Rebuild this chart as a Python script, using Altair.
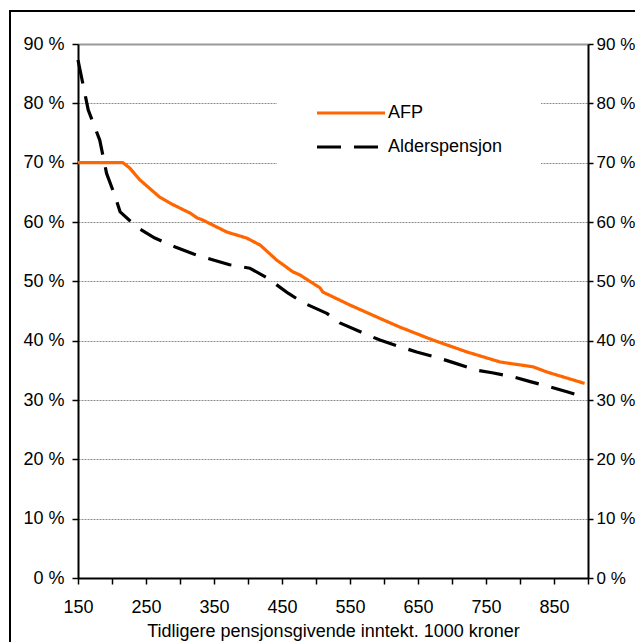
import altair as alt
import pandas as pd

# AFP series (income in 1000 NOK, replacement rate %)
afp_x = [150, 200, 216, 226, 241, 270, 290, 315, 325, 334, 369, 398, 418, 442,
         466, 476, 506, 510, 550, 599, 623, 672, 722, 771, 819, 840, 895]
afp_y = [70.0, 70.0, 70.0, 69.1, 67.1, 64.2, 62.9, 61.5, 60.7, 60.3, 58.3, 57.3, 56.1, 53.6,
         51.6, 51.1, 48.9, 48.2, 46.0, 43.5, 42.3, 40.1, 38.1, 36.4, 35.6, 34.7, 32.8]

# Alderspensjon series
ald_x = [150, 165, 182, 192, 204, 212, 238, 263, 293, 320, 349, 373, 403, 428,
         459, 481, 516, 535, 569, 594, 623, 648, 680, 702, 737, 759, 790, 815,
         844, 869, 895]
ald_y = [87.3, 78.9, 73.8, 68.2, 64.5, 61.7, 59.0, 57.3, 55.8, 54.6, 53.6, 52.8, 52.2, 50.6,
         48.0, 46.4, 44.6, 43.0, 41.3, 40.1, 39.0, 38.1, 37.1, 36.3, 35.0, 34.6, 33.9, 33.1,
         32.2, 31.4, 30.5]

series_names = ["AFP", "Alderspensjon"]
series_colors = ["#FF6600", "#000000"]
series_dash = [[1, 0], [24, 13]]

x_ticks = list(range(150, 901, 50))
y_ticks = list(range(0, 91, 10))

x_title = "Tidligere pensjonsgivende inntekt. 1000 kroner"

df = pd.concat([
    pd.DataFrame({"x": afp_x, "y": afp_y, "serie": series_names[0], "o": range(len(afp_x))}),
    pd.DataFrame({"x": ald_x, "y": ald_y, "serie": series_names[1], "o": range(len(ald_x))}),
])

FONT = "Liberation Sans"
FS = 18

W, H = 510, 534

x_enc = alt.X(
    "x:Q",
    scale=alt.Scale(domain=[150, 900], nice=False, zero=False),
    axis=alt.Axis(
        values=x_ticks,
        labelExpr="(datum.value - 150) % 100 == 0 && datum.value < 900 ? datum.label : ''",
        title=x_title,
        grid=False,
        domainColor="black",
        domainWidth=2,
        tickColor="black",
        tickWidth=1.5,
        tickSize=6,
        labelPadding=14,
        titlePadding=6,
        labelFlush=False,
    ),
)

y_left = alt.Y(
    "y:Q",
    scale=alt.Scale(domain=[0, 90], nice=False),
    axis=alt.Axis(
        values=y_ticks,
        labelExpr="datum.value + ' %'",
        title=None,
        orient="left",
        grid=True,
        gridColor={"condition": {"test": "datum.value === 90", "value": "#9a9a9a"}, "value": "#8c8c8c"},
        gridDash={"condition": {"test": "datum.value === 90", "value": [1, 0]}, "value": [2, 1]},
        gridWidth={"condition": {"test": "datum.value === 90", "value": 2}, "value": 1},
        domainColor="black",
        domainWidth=2,
        tickColor="black",
        tickWidth=1.5,
        tickSize=6,
        labelPadding=8,
    ),
)

y_right = alt.Y(
    "y:Q",
    scale=alt.Scale(domain=[0, 90], nice=False),
    axis=alt.Axis(
        values=y_ticks,
        labelExpr="datum.value + ' %'",
        title=None,
        orient="right",
        grid=False,
        domainColor="black",
        domainWidth=2,
        tickColor="black",
        tickWidth=1.5,
        tickSize=5,
        labelPadding=3,
        labelFontSize=17,
    ),
)

lines = alt.Chart(df).mark_line(strokeWidth=3.2, strokeCap="butt", strokeJoin="round").encode(
    x=x_enc,
    y=y_left,
    order="o:Q",
    color=alt.Color(
        "serie:N",
        scale=alt.Scale(domain=series_names, range=series_colors),
        legend=alt.Legend(
            title=None,
            orient="none",
            legendX=199,
            legendY=12,
            fillColor="white",
            padding=38,
            symbolType="M-1,0H3",
            symbolSize=1156,
            symbolStrokeWidth=3.2,
            labelFont=FONT,
            labelFontSize=FS,
            labelColor="black",
            labelOffset=35,
            rowPadding=6,
        ),
    ),
    strokeDash=alt.StrokeDash(
        "serie:N",
        scale=alt.Scale(domain=series_names, range=series_dash),
        legend=alt.Legend(title=None),
    ),
)

right_axis = alt.Chart(df).mark_line(opacity=0).encode(
    x=x_enc,
    y=y_right,
)

frame = alt.Chart(pd.DataFrame({"k": [0]})).mark_rect(
    fill=None, stroke="black", strokeWidth=2
).encode(
    x=alt.value(-68), x2=alt.value(W + 80), y=alt.value(-33), y2=alt.value(H + 80)
)

chart = alt.layer(lines, right_axis, frame).resolve_scale(y="independent").properties(
    width=W,
    height=H,
    padding={"left": 70, "top": 36, "right": 47, "bottom": 64},
    autosize=alt.AutoSizeParams(type="none"),
).configure_view(stroke=None).configure_axis(
    labelFont=FONT, labelFontSize=FS, labelColor="black",
    titleFont=FONT, titleFontSize=FS, titleColor="black", titleFontWeight="normal",
)

chart.save("out.html", embed_options={"renderer": "svg", "actions": False})
